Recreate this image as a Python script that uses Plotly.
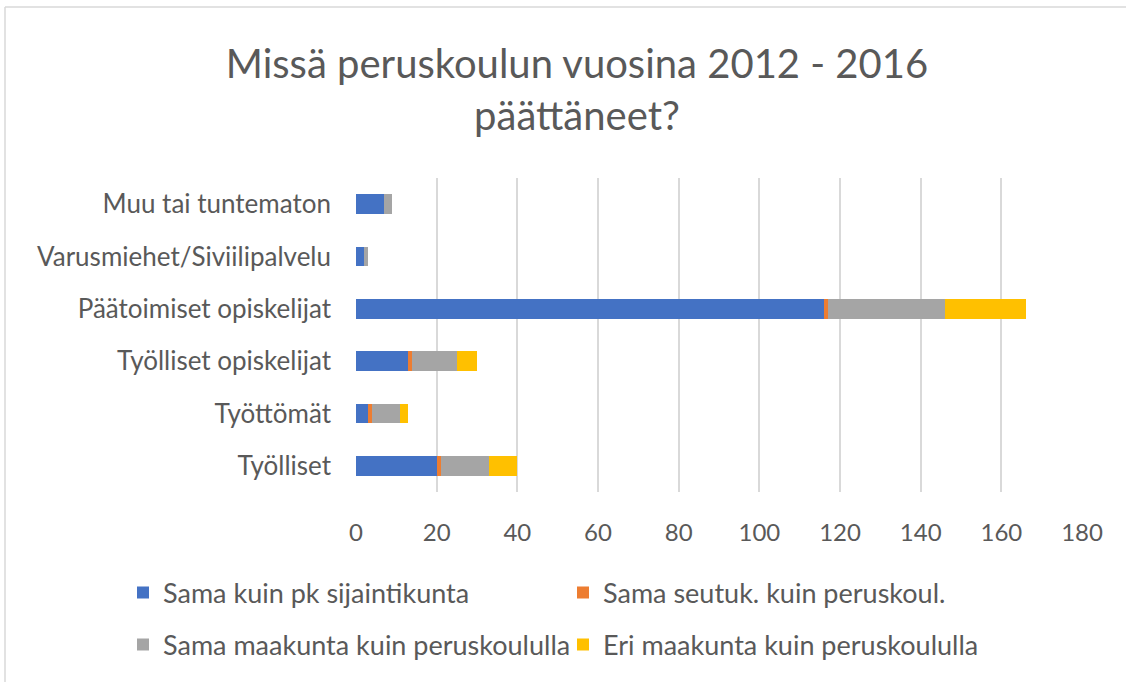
import plotly.graph_objects as go

categories = ["Työlliset", "Työttömät", "Työlliset opiskelijat", "Päätoimiset opiskelijat",
              "Varusmiehet/Siviilipalvelu", "Muu tai tuntematon"]
series_names = ["Sama kuin pk sijaintikunta", "Sama seutuk. kuin peruskoul.",
                "Sama maakunta kuin peruskoululla", "Eri maakunta kuin peruskoululla"]
sama_kunta = [20, 3, 13, 116, 2, 7]
sama_seutu = [1, 1, 1, 1, 0, 0]
sama_maakunta = [12, 7, 11, 29, 1, 2]
eri_maakunta = [7, 2, 5, 20, 0, 0]
x_ticks = [0, 20, 40, 60, 80, 100, 120, 140, 160, 180]

colors = ["#4472C4", "#ED7D31", "#A5A5A5", "#FFC000"]
values = [sama_kunta, sama_seutu, sama_maakunta, eri_maakunta]
legends = ["legend", "legend", "legend2", "legend2"]

W, H = 1126, 682
L, R, T, B = 356, 1082, 178, 492
FONT = "Lato"
TXT = "#595959"

fig = go.Figure()
for name, vals, col, lg in zip(series_names, values, colors, legends):
    fig.add_trace(go.Bar(y=categories, x=vals, name=name, orientation="h",
                         marker=dict(color=col, line=dict(width=0)), legend=lg))

def px_x(p):
    return (p - L) / (R - L)

def px_y(p):
    return (B - p) / (B - T)

legend_common = dict(orientation="h", xanchor="left", yanchor="middle",
                     entrywidth=395, entrywidthmode="pixels",
                     font=dict(family=FONT, size=27, color=TXT),
                     bgcolor="rgba(0,0,0,0)", traceorder="normal")

fig.update_layout(
    width=W, height=H,
    barmode="stack", bargap=0.62,
    paper_bgcolor="white", plot_bgcolor="white",
    margin=dict(l=L, r=W - R, t=T, b=H - B, autoexpand=False),
    font=dict(family=FONT, color=TXT, size=26),
    title=dict(text="Missä peruskoulun vuosina 2012 - 2016<br>päättäneet?",
               x=577 / W, xanchor="center", xref="container",
               y=1 - 78 / H, yanchor="top", yref="container",
               font=dict(family=FONT, size=40, color=TXT)),
    xaxis=dict(range=[0, 180], tickvals=x_ticks, showgrid=True, gridcolor="#D9D9D9",
               gridwidth=1.5, zeroline=False, showline=False, ticks="",
               ticklabelstandoff=24, tickfont=dict(size=24, color=TXT)),
    yaxis=dict(showgrid=False, zeroline=False, showline=False, ticks="",
               ticklabelstandoff=24, tickfont=dict(size=26, color=TXT)),
    legend=dict(legend_common, x=px_x(123), y=px_y(593)),
    legend2=dict(legend_common, x=px_x(123), y=px_y(645)),
    shapes=[
        dict(type="line", xref="paper", yref="paper", x0=px_x(5), x1=px_x(W), y0=px_y(7), y1=px_y(7),
             line=dict(color="#D9D9D9", width=1.5)),
        dict(type="line", xref="paper", yref="paper", x0=px_x(5), x1=px_x(5), y0=px_y(7), y1=px_y(H),
             line=dict(color="#D9D9D9", width=1.5)),
    ],
)

fig.write_html("out.html", config={"displayModeBar": False},
               post_script="document.body.style.margin='0';")
